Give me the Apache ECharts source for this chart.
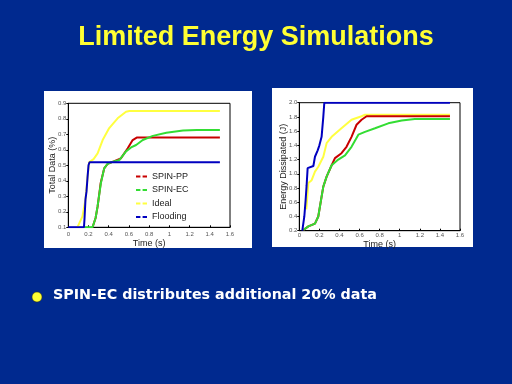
<!DOCTYPE html>
<html>
<head>
<meta charset="utf-8">
<script src="https://cdn.jsdelivr.net/npm/echarts@6/dist/echarts.min.js"></script>
<style>html,body{margin:0;padding:0;background:#00298F;}#c{width:512px;height:384px;}</style>
</head>
<body>
<div id="c"></div>
<script>
// ---- Data: left chart (Total Data) ----
const seriesNames = ['SPIN-PP', 'SPIN-EC', 'Ideal', 'Flooding'];
const xTicks = [0, 0.2, 0.4, 0.6, 0.8, 1.0, 1.2, 1.4, 1.6];
const leftYTicks = [0.1, 0.2, 0.3, 0.4, 0.5, 0.6, 0.7, 0.8, 0.9];
const rightYTicks = [0.2, 0.4, 0.6, 0.8, 1.0, 1.2, 1.4, 1.6, 1.8, 2.0];

const dataPPTime = [0.24, 0.27, 0.29, 0.32, 0.355, 0.39, 0.45, 0.52, 0.588, 0.637, 0.677, 1.5];
const dataPPVal  = [0.1, 0.16, 0.233, 0.384, 0.48, 0.51, 0.525, 0.545, 0.61, 0.663, 0.679, 0.679];
const dataECTime = [0.155, 0.24, 0.27, 0.289, 0.322, 0.355, 0.389, 0.45, 0.505, 0.571, 0.621, 0.671, 0.737, 0.837, 0.97, 1.135, 1.27, 1.5];
const dataECVal  = [0.1, 0.1, 0.16, 0.233, 0.384, 0.48, 0.51, 0.525, 0.534, 0.59, 0.615, 0.631, 0.663, 0.69, 0.71, 0.724, 0.728, 0.728];
const dataIdTime = [0.09, 0.14, 0.17, 0.19, 0.206, 0.25, 0.29, 0.34, 0.405, 0.488, 0.571, 0.604, 1.5];
const dataIdVal  = [0.1, 0.17, 0.28, 0.42, 0.52, 0.54, 0.577, 0.663, 0.74, 0.803, 0.846, 0.85, 0.85];
const dataFlTime = [0, 0.155, 0.16, 0.17, 0.18, 0.19, 0.2, 0.21, 1.5];
const dataFlVal  = [0.1, 0.1, 0.15, 0.28, 0.33, 0.42, 0.5, 0.52, 0.52];

// ---- Data: right chart (Energy Dissipated) ----
const energyPPTime = [0.04, 0.09, 0.156, 0.189, 0.222, 0.239, 0.272, 0.322, 0.355, 0.42, 0.47, 0.52, 0.57, 0.62, 0.67, 1.5];
const energyPPVal  = [0.21, 0.26, 0.3, 0.4, 0.68, 0.82, 0.96, 1.12, 1.22, 1.29, 1.38, 1.52, 1.69, 1.76, 1.81, 1.81];
const energyECTime = [0.04, 0.09, 0.156, 0.189, 0.222, 0.239, 0.272, 0.322, 0.388, 0.455, 0.52, 0.588, 0.654, 0.754, 0.886, 1.02, 1.15, 1.5];
const energyECVal  = [0.21, 0.26, 0.3, 0.4, 0.68, 0.82, 0.96, 1.12, 1.2, 1.26, 1.38, 1.55, 1.59, 1.64, 1.71, 1.75, 1.77, 1.77];
const energyIdTime = [0.07, 0.09, 0.123, 0.156, 0.189, 0.239, 0.272, 0.322, 0.42, 0.52, 0.62, 0.654, 1.5];
const energyIdVal  = [0.5, 0.87, 0.91, 1.03, 1.1, 1.24, 1.43, 1.52, 1.64, 1.76, 1.81, 1.83, 1.83];
const energyFlTime = [0.03, 0.05, 0.063, 0.073, 0.083, 0.096, 0.14, 0.156, 0.183, 0.2, 0.222, 0.239, 0.249, 1.5];
const energyFlVal  = [0.2, 0.4, 0.63, 0.84, 1.08, 1.09, 1.11, 1.24, 1.33, 1.40, 1.52, 1.80, 2.0, 2.0];

const colors = ['#C80000', '#33DD33', '#FFFF40', '#0000C0'];
const zOrder = [2, 3, 1, 4];

function pairs(t, v) { return t.map((x, i) => [x, v[i]]); }

const leftData = [pairs(dataPPTime, dataPPVal), pairs(dataECTime, dataECVal), pairs(dataIdTime, dataIdVal), pairs(dataFlTime, dataFlVal)];
const rightData = [pairs(energyPPTime, energyPPVal), pairs(energyECTime, energyECVal), pairs(energyIdTime, energyIdVal), pairs(energyFlTime, energyFlVal)];

const chart = echarts.init(document.getElementById('c'), null, {renderer: 'canvas'});
const font = 'Liberation Sans, Arial, sans-serif';
const tickLbl = {fontSize: 6, color: '#555', fontFamily: font};

function xAxis(idx, gap, margin) {
  return {
    type: 'value', gridIndex: idx, min: 0, max: 1.6, interval: 0.2,
    axisLine: {show: true, lineStyle: {color: '#000', width: 1}},
    axisTick: {show: true, inside: true, length: 2, lineStyle: {color: '#000'}},
    axisLabel: Object.assign({margin: margin, formatter: v => String(+v.toFixed(1))}, tickLbl),
    splitLine: {show: false},
    name: 'Time (s)', nameLocation: 'middle', nameGap: gap, nameMoveOverlap: false,
    nameTextStyle: {fontSize: 9, color: '#222', fontFamily: font}
  };
}
function yAxis(idx, ticks, name, gap) {
  return {
    type: 'value', gridIndex: idx, min: ticks[0], max: ticks[ticks.length - 1], interval: +(ticks[1] - ticks[0]).toFixed(2),
    axisLine: {show: true, lineStyle: {color: '#000', width: 1}},
    axisTick: {show: true, inside: false, length: 2, lineStyle: {color: '#000'}},
    axisLabel: Object.assign({margin: 2, formatter: v => (+v).toFixed(1)}, tickLbl),
    splitLine: {show: false},
    name: name, nameLocation: 'middle', nameGap: gap, nameRotate: 90, nameMoveOverlap: false,
    nameTextStyle: {fontSize: 9, color: '#222', fontFamily: font}
  };
}

const series = [];
seriesNames.forEach((n, i) => {
  series.push({name: n, type: 'line', xAxisIndex: 0, yAxisIndex: 0, data: leftData[i], showSymbol: false, symbol: 'none',
    lineStyle: {color: colors[i], width: 2}, itemStyle: {color: colors[i]}, z: zOrder[i], animation: false});
});
seriesNames.forEach((n, i) => {
  series.push({name: n, type: 'line', xAxisIndex: 1, yAxisIndex: 1, data: rightData[i], showSymbol: false, symbol: 'none',
    lineStyle: {color: colors[i], width: 2}, itemStyle: {color: colors[i]}, z: zOrder[i], animation: false});
});

chart.setOption({
  backgroundColor: '#00298F',
  animation: false,
  title: {
    text: 'Limited Energy Simulations', left: 'center', top: 19,
    textStyle: {color: '#FFFF33', fontSize: 27, fontWeight: 'bold', fontFamily: font}
  },
  graphic: [
    {type: 'rect', shape: {x: 44, y: 91, width: 208, height: 157}, style: {fill: '#FFFFFF'}, z: -10},
    {type: 'rect', shape: {x: 272, y: 88, width: 201, height: 159}, style: {fill: '#FFFFFF'}, z: -10},
    {type: 'circle', shape: {cx: 37, cy: 297, r: 5}, style: {fill: '#FFFF33', stroke: '#3a3a00', lineWidth: 0.5}},
    {type: 'text', left: 53, top: 288, style: {text: 'SPIN-EC distributes additional 20% data', fill: '#FFFFFF', font: 'bold 14.3px "DejaVu Sans", sans-serif'}}
  ],
  legend: {
    data: seriesNames, orient: 'vertical', left: 136, top: 172, itemGap: 4.5,
    itemWidth: 11, itemHeight: 8, icon: 'path://M0,4L4,4L4,6L0,6Z M6,4L10,4L10,6L6,6Z',
    textStyle: {fontSize: 9, color: '#222', fontFamily: font, padding: [0, 0, 0, 0]},
    padding: 0
  },
  grid: [
    {left: 68.3, top: 103.3, width: 161.7, height: 124, show: true, borderColor: '#000', borderWidth: 1, backgroundColor: 'transparent'},
    {left: 299.3, top: 102.7, width: 160.7, height: 128, show: true, borderColor: '#000', borderWidth: 1, backgroundColor: 'transparent'}
  ],
  xAxis: [xAxis(0, 12, 4), xAxis(1, 9.5, 1.5)],
  yAxis: [yAxis(0, leftYTicks, 'Total Data (%)', 11), yAxis(1, rightYTicks, 'Energy Dissipated (J)', 11)],
  series: series
});
</script>
</body>
</html>
